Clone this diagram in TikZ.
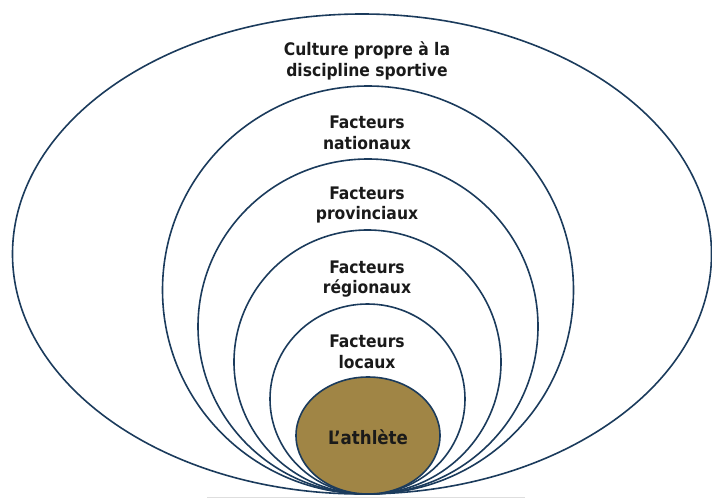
\documentclass[tikz,border=0pt]{standalone}
\usepackage{fontspec}
\setmainfont{DejaVu Sans Condensed}[BoldFont={DejaVu Sans Condensed Bold}]
\usetikzlibrary{shapes.geometric}
\definecolor{navy}{HTML}{1B3B5C}
\definecolor{gold}{HTML}{A08545}
\definecolor{ink}{HTML}{1A1A1A}
\begin{document}
\begin{tikzpicture}[x=1pt,y=-1pt,
  ring/.style={draw=navy, line width=1.6pt, ellipse, inner sep=0pt, outer sep=0pt},
  lbl/.style={align=center, text=ink, font=\fontsize{17.3}{20.5}\selectfont\bfseries, inner sep=0pt}]
\useasboundingbox (0,0) rectangle (712,498);
\node[ring, minimum width=699pt, minimum height=480pt] (culture) at (362,254) {};
\node[ring, minimum width=411pt, minimum height=408pt] (nat) at (368,290) {};
\node[ring, minimum width=340pt, minimum height=335pt] (prov) at (368,326.5) {};
\node[ring, minimum width=267pt, minimum height=264pt] (reg) at (367.5,362) {};
\node[ring, minimum width=195pt, minimum height=190pt] (loc) at (367.5,399) {};
\node[ring, fill=gold, minimum width=144pt, minimum height=117pt] (ath) at (368,435.5) {};
\node[lbl] (tculture) at (367,61) {Culture propre à la\\discipline sportive};
\node[lbl] (tnat) at (367,133) {Facteurs\\nationaux};
\node[lbl] (tprov) at (367,205) {Facteurs\\provinciaux};
\node[lbl] (treg) at (367,279) {Facteurs\\régionaux};
\node[lbl] (tloc) at (367,352) {Facteurs\\locaux};
\node[lbl, font=\fontsize{18.5}{22}\selectfont\bfseries] (tath) at (368,437) {L’athlète};
\draw[draw=black!13, line width=0.8pt] (207,497.3) -- (525,497.3);
\end{tikzpicture}
\end{document}
